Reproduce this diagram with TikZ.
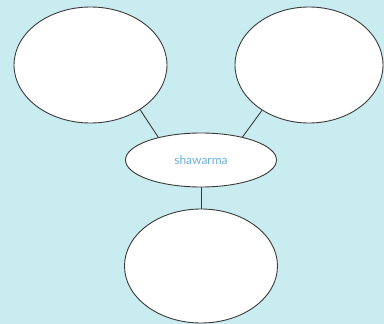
\documentclass[tikz,border=0pt]{standalone}
\usepackage{fontspec}
\setmainfont{Lato}
\usetikzlibrary{shapes.geometric}
\definecolor{bgc}{HTML}{C9ECF0}
\definecolor{txtc}{HTML}{6AAFD8}
\definecolor{linec}{HTML}{3A3A3A}
\tikzset{
  bubble/.style={ellipse, draw=linec, fill=white, line width=0.9pt, inner sep=0pt},
  link/.style={draw=linec, line width=0.9pt}
}
\begin{document}
\begin{tikzpicture}[x=1pt,y=-1pt]
\fill[bgc] (0,0) rectangle (384,324);
\useasboundingbox (0,0) rectangle (384,324);
\node[bubble, minimum width=153pt, minimum height=116pt] (tl) at (90.5,65) {};
\node[bubble, minimum width=148pt, minimum height=116pt] (tr) at (309,65) {};
\node[bubble, minimum width=153pt, minimum height=114pt] (bt) at (201,266) {};
\node[bubble, minimum width=151pt, minimum height=54pt, font=\fontsize{12}{14}\selectfont, text=txtc] (c) at (201,160) {shawarma};
\draw[link] (tl.-42) -- (c.152);
\draw[link] (tr.-136) -- (c.29);
\draw[link] (c.south) -- (bt.north);
\end{tikzpicture}
\end{document}
